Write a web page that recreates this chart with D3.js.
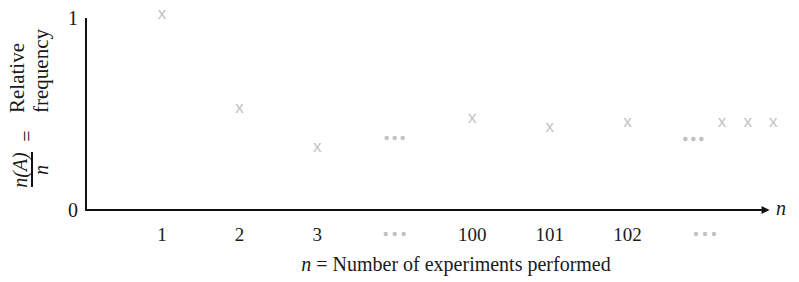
<!DOCTYPE html>
<html>
<head>
<meta charset="utf-8">
<script src="https://cdn.jsdelivr.net/npm/d3@7"></script>
<style>
  body { margin: 0; background: #fff; }
  svg text { font-family: "Liberation Serif", "Times New Roman", serif; fill: #1a1a1a; }
</style>
</head>
<body>
<div id="chart"></div>
<script>
// x positions are slot indices along the n axis (0 = "1", 1 = "2", ...)
var tickLabels = ["1", "2", "3", "•••", "100", "101", "102", "•••"];
var tickSlots = [0, 1, 2, 3, 4, 5, 6, 7];

// relative frequency marks (x)
var markSlots = [0, 1, 2, 4, 5, 6, 7.22, 7.55, 7.88];
var markValues = [1.02, 0.53, 0.33, 0.477, 0.43, 0.46, 0.46, 0.46, 0.46];

// "..." gaps inside the plot
var gapSlots = [3, 6.85];
var gapValues = [0.375, 0.37];

var width = 799, height = 282;
var margin = {top: 18, left: 86, bottom: 72};

var svg = d3.select("#chart").append("svg")
    .attr("width", width)
    .attr("height", height);

var x = d3.scaleLinear().domain([0, 7]).range([162, 705]);
var y = d3.scaleLinear().domain([0, 1]).range([height - margin.bottom, margin.top]);

var grey = "#c2c2c2";

// arrow head
svg.append("defs").append("marker")
    .attr("id", "arrow")
    .attr("viewBox", "0 0 10 10")
    .attr("refX", 8).attr("refY", 5)
    .attr("markerWidth", 6).attr("markerHeight", 4)
    .attr("orient", "auto")
  .append("path")
    .attr("d", "M0,0 L10,5 L0,10 Z")
    .attr("fill", "#111");

// axes
svg.append("line")
    .attr("x1", margin.left).attr("x2", margin.left)
    .attr("y1", y(1)).attr("y2", y(0))
    .attr("stroke", "#111").attr("stroke-width", 2);

svg.append("line")
    .attr("x1", margin.left - 1).attr("x2", 768)
    .attr("y1", y(0)).attr("y2", y(0))
    .attr("stroke", "#111").attr("stroke-width", 2)
    .attr("marker-end", "url(#arrow)");

svg.append("text")
    .attr("x", 776).attr("y", y(0) + 5)
    .attr("font-size", 20).attr("font-style", "italic")
    .text("n");

// y tick labels
svg.selectAll(".ytick").data([0, 1]).enter().append("text")
    .attr("class", "ytick")
    .attr("x", 78).attr("y", function (d) { return y(d) + 7; })
    .attr("text-anchor", "end")
    .attr("font-size", 20)
    .text(function (d) { return d; });

// x tick labels (the "•••" gaps are drawn as dots)
var numTicks = tickSlots.filter(function (d, i) { return tickLabels[i] != "•••"; });
var dotTicks = tickSlots.filter(function (d, i) { return tickLabels[i] == "•••"; });

svg.selectAll(".xtick").data(numTicks).enter().append("text")
    .attr("class", "xtick")
    .attr("x", function (d) { return x(d); })
    .attr("y", 241)
    .attr("text-anchor", "middle")
    .attr("font-size", 19)
    .text(function (d) { return tickLabels[tickSlots.indexOf(d)]; });

dotTicks.forEach(function (s) {
    svg.selectAll(null).data([-9, 0, 9]).enter().append("circle")
        .attr("cx", function (d) { return x(s) + d; })
        .attr("cy", 234)
        .attr("r", 2.2)
        .attr("fill", grey);
});

// x axis title
var xt = svg.append("text")
    .attr("x", 456).attr("y", 271)
    .attr("text-anchor", "middle")
    .attr("font-size", 20);
xt.append("tspan").attr("font-style", "italic").text("n");
xt.append("tspan").text(" = Number of experiments performed");

// y axis title (rotated)
var yt = svg.append("g");
yt.append("text")
    .attr("transform", "translate(27,170) rotate(-90)")
    .attr("text-anchor", "middle")
    .attr("font-size", 20).attr("font-style", "italic")
    .text("n(A)");
yt.append("line")
    .attr("x1", 32).attr("x2", 32)
    .attr("y1", 152).attr("y2", 187)
    .attr("stroke", "#111").attr("stroke-width", 2);
yt.append("text")
    .attr("transform", "translate(48,170) rotate(-90)")
    .attr("text-anchor", "middle")
    .attr("font-size", 20).attr("font-style", "italic")
    .text("n");
yt.append("text")
    .attr("transform", "translate(34,136) rotate(-90)")
    .attr("text-anchor", "middle")
    .attr("font-size", 20)
    .text("=");
yt.append("text")
    .attr("transform", "translate(24,78) rotate(-90)")
    .attr("text-anchor", "middle")
    .attr("font-size", 21)
    .text("Relative");
yt.append("text")
    .attr("transform", "translate(48,71) rotate(-90)")
    .attr("text-anchor", "middle")
    .attr("font-size", 21)
    .text("frequency");

// x marks
svg.selectAll(".mark").data(markSlots).enter().append("text")
    .attr("class", "mark")
    .attr("x", function (d) { return x(d); })
    .attr("y", function (d, i) { return y(markValues[i]) + 5; })
    .attr("text-anchor", "middle")
    .style("font-family", "'Liberation Sans', Arial, sans-serif")
    .style("font-size", "17px")
    .style("fill", grey)
    .text("x");

// gap dots inside the plot
gapSlots.forEach(function (s, i) {
    svg.selectAll(null).data([-8, 0, 8]).enter().append("circle")
        .attr("cx", function (d) { return x(s) + d; })
        .attr("cy", y(gapValues[i]))
        .attr("r", 2.3)
        .attr("fill", grey);
});
</script>
</body>
</html>
